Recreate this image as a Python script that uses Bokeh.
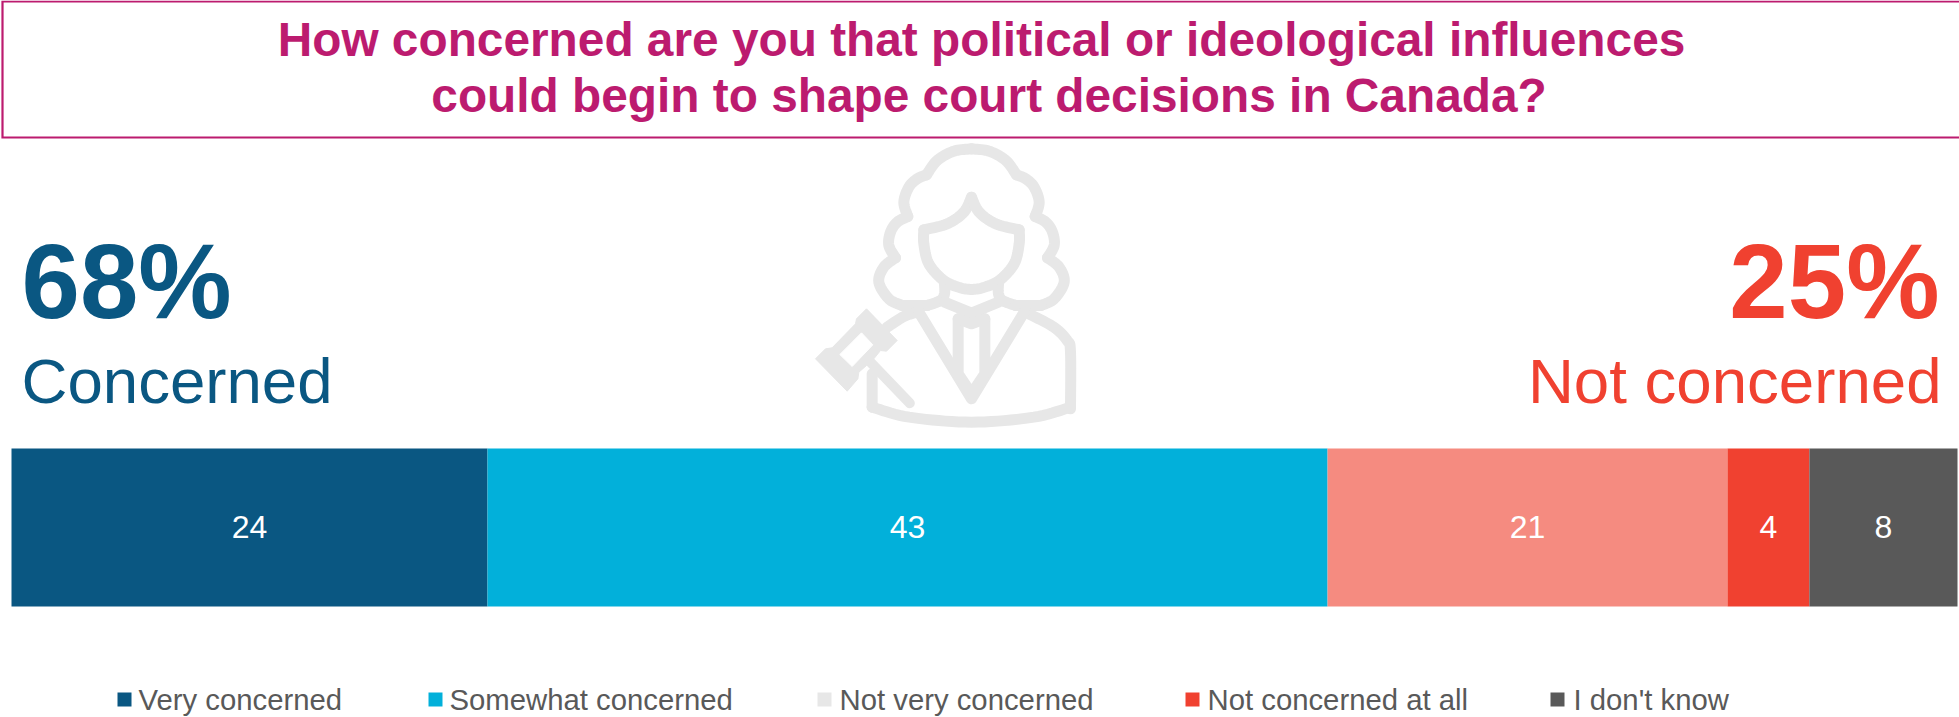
from bokeh.plotting import figure
from bokeh.models import Range1d, ColumnDataSource
from bokeh.core.properties import value
from bokeh.embed import file_html
from bokeh.resources import INLINE
import numpy as np

# ---------- data ----------
title_lines = ["How concerned are you that political or ideological influences",
               "could begin to shape court decisions in Canada?"]
segment_names = ["Very concerned", "Somewhat concerned", "Not very concerned",
                 "Not concerned at all", "I don't know"]
segment_values = [24.46, 43.17, 20.55, 4.21, 7.61]
segment_labels = ["24", "43", "21", "4", "8"]
segment_colors = ["#0A5782", "#02B0DA", "#F58B80", "#F04130", "#595959"]
legend_colors = ["#0A5782", "#02B0DA", "#E7E7E7", "#F04130", "#595959"]
net_left = ["68%", "Concerned"]
net_right = ["25%", "Not concerned"]

# ---------- styles / layout ----------
MAGENTA = "#BC1B6F"
ICON = "#E7E7E7"
FONT = value("Liberation Sans")
REF_W, REF_H = 1959, 717
W, H = 1959, 717
legend_swatch_x = [124, 435, 824, 1192, 1557]
legend_text_x = [138, 449, 839, 1207, 1573]

p = figure(width=W, height=H, output_backend="svg", toolbar_location=None,
           x_range=Range1d(0, REF_W), y_range=Range1d(REF_H, 0),
           min_border=0, outline_line_color=None, background_fill_color="white",
           border_fill_color="white")
p.axis.visible = False
p.grid.visible = False

# percent scale of the bar: 0 -> 11, 100 -> 1957 in reference pixels
ppu = (1957 - 11) / 100
p.extra_x_ranges = {"pct": Range1d(-11 / ppu, (REF_W - 11) / ppu)}

# title box: open on the right, running off the page edge
p.line(x=[REF_W, 2, 2, REF_W], y=[1, 1, 137, 137], line_color=MAGENTA, line_width=2.2,
       line_join="miter")


def txt(x, y, s, size, color, align="left", style="normal"):
    # y is the text's baseline; the svg backend is steadiest with "middle"
    p.text(x=[x], y=[y - 0.35 * size], text=[s], text_font=FONT,
           text_font_size=f"{size}px", text_color=color, text_align=align,
           text_font_style=style, text_baseline="middle")


txt(981, 56, title_lines[0], 47.8, MAGENTA, "center", "bold")
txt(988.5, 112, title_lines[1], 47.8, MAGENTA, "center", "bold")


# ---------- judge icon (decoration) ----------
def Z(pts):
    a = np.array(pts, float)
    return 780 + a[:, 0] / 3, 130 + a[:, 1] / 3


def smooth(pts, n=10):
    a = np.array(pts, float)
    a2 = np.vstack([a[0], a, a[-1]])
    out = []
    for i in range(1, len(a2) - 2):
        p0, p1, p2, p3 = a2[i - 1], a2[i], a2[i + 1], a2[i + 2]
        for t in np.linspace(0, 1, n, endpoint=False):
            out.append(0.5 * (2 * p1 + (p2 - p0) * t + (2 * p0 - 5 * p1 + 4 * p2 - p3) * t ** 2
                              + (3 * p1 - p0 - 3 * p2 + p3) * t ** 3))
    out.append(a[-1])
    return out


def mirror(pts):
    return [(1146 - x, y) for x, y in reversed(pts)]


lobe_top = [(438, 133), (470, 90), (520, 62), (573, 55)]
lobe_3 = [(382, 258), (370, 215), (385, 170), (410, 145), (438, 133)]
lobe_2 = [(345, 382), (325, 345), (330, 305), (350, 275), (382, 258)]
lobe_1 = [(365, 525), (325, 505), (295, 455), (310, 410), (345, 382)]
bang = [(430, 298), (500, 280), (550, 245), (573, 200)]
jaw = [(430, 298), (430, 340), (445, 400), (490, 450), (540, 472), (573, 477)]
neck = [(440, 525), (480, 510), (492, 490), (492, 460)]
right_shoulder = [(745, 550), (820, 590), (860, 630), (870, 665), (870, 835)]
left_shoulder = [(320, 590), (370, 558), (410, 545)]
hem = [(870, 830), (760, 860), (573, 875), (386, 860), (275, 830)]

paths = []
for seg in (lobe_1, lobe_2, lobe_3, lobe_top, bang, jaw, neck):
    s = smooth(seg)
    paths.append(s)
    paths.append(mirror(s))
paths += [[(365, 525), (440, 525)], [(706, 525), (781, 525)]]
paths += [smooth(right_shoulder), smooth(left_shoulder), smooth(hem)]
paths += [[(275, 830), (275, 730)]]
paths += [[(492, 515), (573, 548), (654, 515)]]
paths += [[(415, 545), (573, 805), (731, 545)]]
paths += [[(533, 565), (533, 730), (573, 790), (613, 730), (613, 565)]]
paths += [[(533, 565), (573, 580), (613, 565)]]

xs, ys = zip(*[Z(q) for q in paths])
p.multi_line(xs=[list(v) for v in xs], ys=[list(v) for v in ys], line_color=ICON,
             line_width=11, line_join="round", line_cap="round")

gx, gy = Z([(258, 535), (350, 630), (318, 662), (300, 660), (280, 685), (258, 705),
            (235, 725), (232, 745), (200, 782), (105, 685), (135, 655), (155, 652),
            (225, 580), (228, 565)])
p.patch(gx, gy, fill_color=ICON, line_color=ICON)
wx, wy = Z([(243, 607), (277, 643), (215, 708), (178, 672)])
p.patch(wx, wy, fill_color="white", line_color="white")
hx, hy = Z([(270, 695), (388, 818)])
p.line(hx, hy, line_color=ICON, line_width=10, line_cap="round")

# ---------- big numbers ----------
txt(21, 318, net_left[0], 105, "#0A5782", "left", "bold")
txt(21, 402, net_left[1], 63.6, "#0A5782")
txt(1939, 318, net_right[0], 105, "#F04130", "right", "bold")
txt(1941, 402, net_right[1], 63.6, "#F04130", "right")

# ---------- stacked bar ----------
vals = np.array(segment_values)
right = np.cumsum(vals)
left = right - vals
bars = ColumnDataSource(dict(left=left, right=right, mid=(left + right) / 2,
                             color=segment_colors, label=segment_labels,
                             name=segment_names, y=[527] * len(vals),
                             ylab=[526] * len(vals)))
p.hbar(y="y", left="left", right="right", height=158, fill_color="color",
       line_color=None, source=bars, x_range_name="pct")
p.text(x="mid", y="ylab", text="label", source=bars, x_range_name="pct",
       text_font=FONT, text_font_size="32px", text_color="white",
       text_align="center", text_baseline="middle")

# ---------- legend ----------
p.rect(x=legend_swatch_x, y=[699] * 5, width=14, height=14, fill_color=legend_colors,
       line_color=None)
p.text(x=legend_text_x, y=[709 - 0.35 * 29.3] * 5, text=segment_names, text_font=FONT,
       text_font_size="29.3px", text_color="#595959", text_baseline="middle")

open("out.html", "w").write(file_html(p, INLINE))
